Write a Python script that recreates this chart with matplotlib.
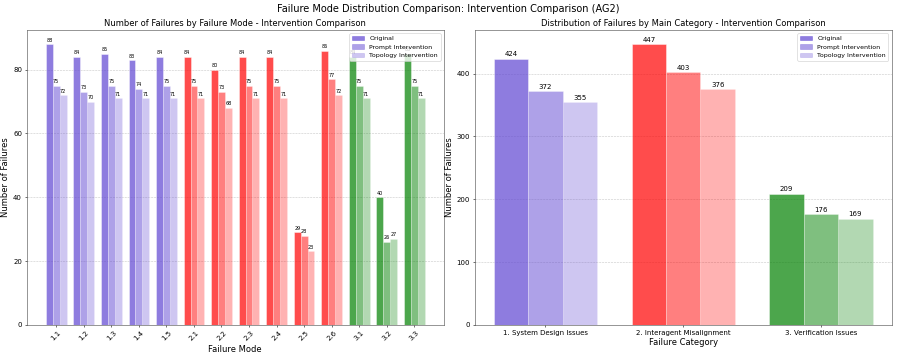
import numpy as np
import matplotlib
matplotlib.use('Agg')
import matplotlib.pyplot as plt

# failure modes and counts per intervention
modes = ['1.1', '1.2', '1.3', '1.4', '1.5',
         '2.1', '2.2', '2.3', '2.4', '2.5', '2.6',
         '3.1', '3.2', '3.3']
original = [88, 84, 85, 83, 84, 84, 80, 84, 84, 29, 86, 84, 40, 85]
prompt = [75, 73, 75, 74, 75, 75, 73, 75, 75, 28, 77, 75, 26, 75]
topology = [72, 70, 71, 71, 71, 71, 68, 71, 71, 23, 72, 71, 27, 71]

categories = ['1. System Design Issues', '2. Interagent Misalignment', '3. Verification Issues']
cat_original = [424, 447, 209]
cat_prompt = [372, 403, 176]
cat_topology = [355, 376, 169]

cat_colors = ['#5F45D2', 'red', 'green']
series_names = ['Original', 'Prompt Intervention', 'Topology Intervention']
alphas = [0.7, 0.5, 0.3]

def mode_color(m):
    return cat_colors[int(m.split('.')[0]) - 1]

fig, (ax1, ax2) = plt.subplots(1, 2, figsize=(17.94, 7.1), dpi=50)
plt.subplots_adjust(left=0.030, right=0.994, top=0.915, bottom=0.085, wspace=0.075)

w = 0.25
x = np.arange(len(modes))
cols = [mode_color(m) for m in modes]
for k, (vals, a) in enumerate(zip([original, prompt, topology], alphas)):
    bars = ax1.bar(x + (k - 1) * w, vals, w, color=cols, alpha=a,
                   edgecolor='white', linewidth=0.8, label=series_names[k])
    for b, v in zip(bars, vals):
        ax1.text(b.get_x() + b.get_width() / 2, v + 0.5, str(v),
                 ha='center', va='bottom', fontsize=7)

ax1.set_xticks(x)
ax1.set_xticklabels(modes, rotation=45, fontsize=10)
ax1.tick_params(axis='y', labelsize=10)
ax1.set_xlabel('Failure Mode', fontsize=12)
ax1.set_ylabel('Number of Failures', fontsize=12)
ax1.set_title('Number of Failures by Failure Mode - Intervention Comparison', fontsize=12)
ax1.grid(axis='y', linestyle='--', alpha=0.7)
ax1.set_axisbelow(True)
leg1 = ax1.legend(loc='upper right', fontsize=9)
for h, a in zip(leg1.legend_handles, alphas):
    h.set_color(cat_colors[0])
    h.set_alpha(a)

xc = np.arange(len(categories))
for k, (vals, a) in enumerate(zip([cat_original, cat_prompt, cat_topology], alphas)):
    bars = ax2.bar(xc + (k - 1) * w, vals, w, color=cat_colors, alpha=a,
                   edgecolor='white', linewidth=0.8, label=series_names[k])
    for b, v in zip(bars, vals):
        ax2.text(b.get_x() + b.get_width() / 2, v + 2, str(v),
                 ha='center', va='bottom', fontsize=10)

ax2.set_xticks(xc)
ax2.set_xticklabels(categories, fontsize=10)
ax2.tick_params(axis='y', labelsize=10)
ax2.set_xlabel('Failure Category', fontsize=12)
ax2.set_ylabel('Number of Failures', fontsize=12)
ax2.set_title('Distribution of Failures by Main Category - Intervention Comparison', fontsize=12)
ax2.grid(axis='y', linestyle='--', alpha=0.7)
ax2.set_axisbelow(True)
leg2 = ax2.legend(loc='upper right', fontsize=9)
for h, a in zip(leg2.legend_handles, alphas):
    h.set_color(cat_colors[0])
    h.set_alpha(a)

for ax in (ax1, ax2):
    for s in ax.spines.values():
        s.set_color('#444444')

fig.suptitle('Failure Mode Distribution Comparison: Intervention Comparison (AG2)', fontsize=14, y=0.99)
plt.savefig('out.png', dpi=50)
